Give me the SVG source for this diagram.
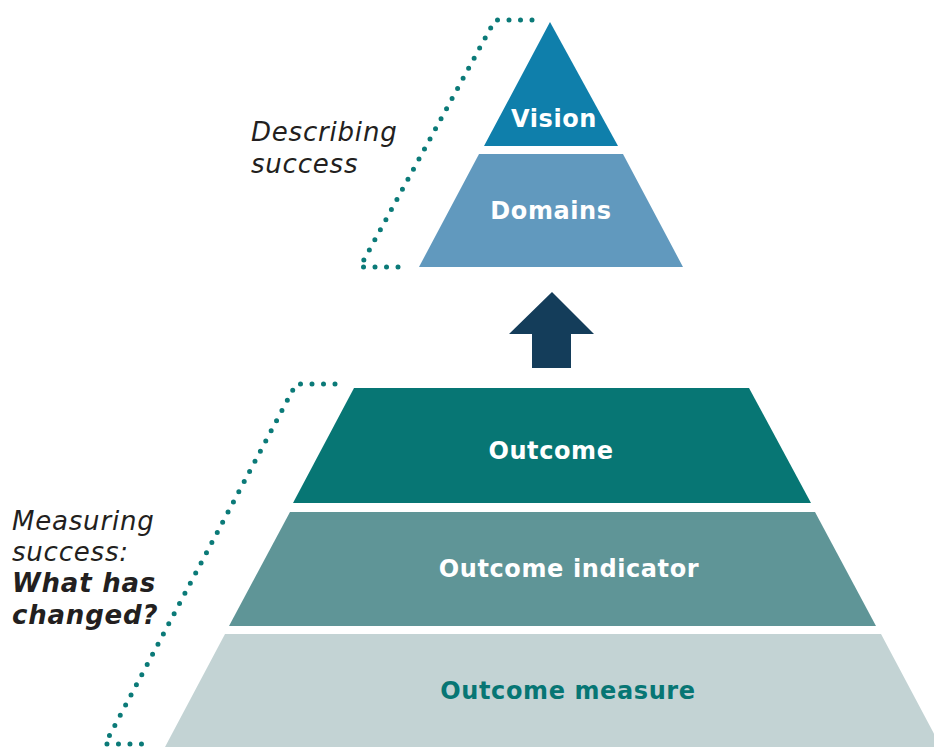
<svg xmlns="http://www.w3.org/2000/svg" width="934" height="747" viewBox="0 0 934 747">
<style>
.lbl{font-family:"DejaVu Sans","Noto Sans",sans-serif;font-weight:700;font-size:24px;letter-spacing:0.6px;text-anchor:middle}
.side{font-family:"DejaVu Sans","Noto Sans",sans-serif;font-style:italic;font-size:26px;letter-spacing:0.8px;fill:#231f20}
.dots{fill:none;stroke:#0b7a78;stroke-width:5;stroke-linecap:round;stroke-dasharray:0 11.5;stroke-linejoin:round}
</style>
<rect width="934" height="747" fill="#fff"/>
<g id="connectors">
<path class="dots" d="M532,20 H495 L360,267 H403"/>
<path class="dots" d="M335,384 H296 L105,744 H150"/>
<path id="arrow" d="M552,292 L594,334 L571,334 L571,368 L532,368 L532,334 L509,334 Z" fill="#143d5a"/>
</g>
<g id="vision">
<path d="M550,22 L618,146 L484,146 Z" fill="#0f7fab"/>
<text class="lbl" x="554" y="127" fill="#fff">Vision</text>
</g>
<g id="domains">
<path d="M479,154 L623,154 L683,267 L419,267 Z" fill="#6199be"/>
<text class="lbl" x="551" y="219" fill="#fff">Domains</text>
</g>
<g id="outcome">
<path d="M354,388 L749,388 L811,503 L293,503 Z" fill="#077674"/>
<text class="lbl" x="551" y="459" fill="#fff">Outcome</text>
</g>
<g id="indicator">
<path d="M290,512 L815,512 L876,626 L229,626 Z" fill="#5f9597"/>
<text class="lbl" x="569" y="577" fill="#fff">Outcome indicator</text>
</g>
<g id="measure">
<path d="M225,634 L881,634 L941,747 L165,747 Z" fill="#c3d3d4"/>
<text class="lbl" x="568" y="699" fill="#077674">Outcome measure</text>
</g>
<g id="describing">
<text class="side" x="251" y="141">Describing</text>
<text class="side" x="251" y="173">success</text>
</g>
<g id="measuring">
<text class="side" x="12" y="530">Measuring</text>
<text class="side" x="12" y="561">success:</text>
<text class="side" x="12" y="592" font-weight="700">What has</text>
<text class="side" x="12" y="624" font-weight="700">changed?</text>
</g>
</svg>
